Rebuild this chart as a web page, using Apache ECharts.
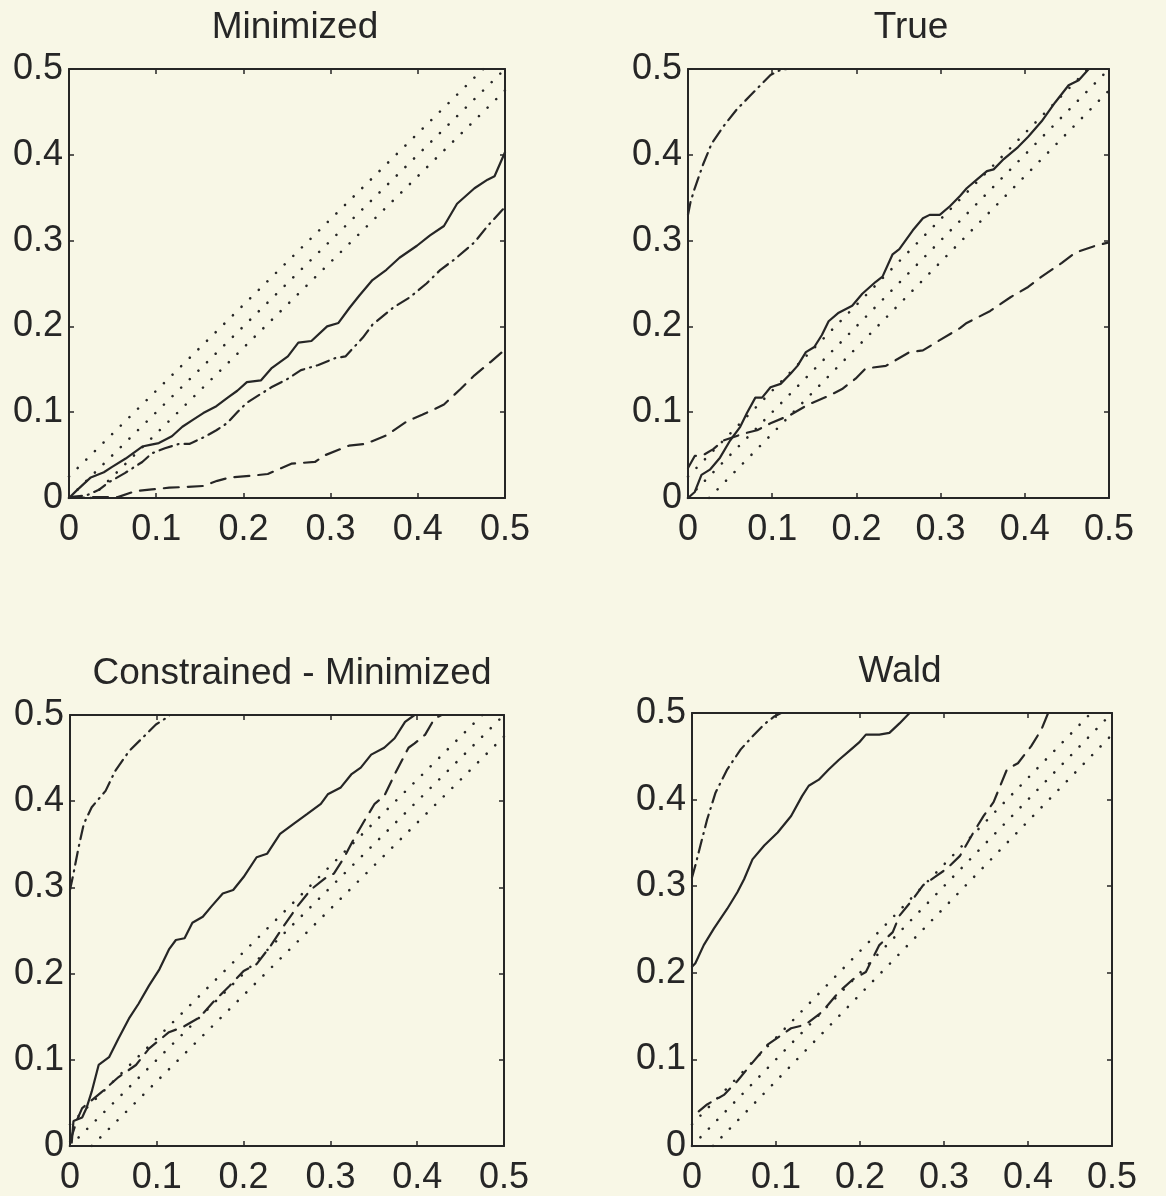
<!DOCTYPE html>
<html>
<head>
<meta charset="utf-8">
<script src="https://cdn.jsdelivr.net/npm/echarts@6/dist/echarts.min.js"></script>
<style>
  html, body { margin: 0; padding: 0; background: #f8f7e6; }
  #chart { width: 1166px; height: 1196px; }
</style>
</head>
<body>
<div id="chart"></div>
<script>
// panel titles, in reading order
const panelTitles = ["Minimized", "True", "Constrained - Minimized", "Wald"];

// reference band (dotted): y = x and y = x +/- 0.025
const bandUpper = [[0, 0.025], [0.475, 0.5]];
const bandMid = [[0, 0], [0.5, 0.5]];
const bandLower = [[0.025, 0], [0.5, 0.475]];

// Minimized
const minSolid = [[0,0],[0.008,0.008],[0.025,0.024],[0.04,0.03],[0.049,0.036],[0.065,0.046],[0.084,0.06],[0.093,0.062],[0.103,0.064],[0.118,0.072],[0.13,0.083],[0.142,0.091],[0.154,0.099],[0.169,0.107],[0.182,0.117],[0.193,0.125],[0.204,0.135],[0.22,0.137],[0.232,0.151],[0.251,0.165],[0.263,0.181],[0.278,0.183],[0.296,0.2],[0.309,0.204],[0.322,0.222],[0.333,0.236],[0.348,0.254],[0.364,0.266],[0.379,0.28],[0.399,0.294],[0.414,0.306],[0.43,0.317],[0.445,0.343],[0.465,0.361],[0.48,0.371],[0.488,0.375],[0.5,0.403]];
const minDashDot = [[0,0.001],[0.02,0.003],[0.035,0.01],[0.045,0.018],[0.052,0.022],[0.064,0.029],[0.084,0.042],[0.095,0.052],[0.11,0.058],[0.126,0.063],[0.138,0.063],[0.155,0.071],[0.169,0.079],[0.181,0.087],[0.194,0.101],[0.204,0.111],[0.232,0.129],[0.251,0.139],[0.266,0.149],[0.286,0.155],[0.305,0.163],[0.317,0.165],[0.337,0.187],[0.348,0.202],[0.372,0.222],[0.391,0.234],[0.41,0.25],[0.426,0.266],[0.442,0.278],[0.465,0.298],[0.48,0.317],[0.5,0.339]];
const minDashed = [[0,0],[0.03,0.001],[0.056,0.001],[0.076,0.008],[0.095,0.01],[0.115,0.012],[0.135,0.013],[0.154,0.014],[0.17,0.02],[0.185,0.024],[0.21,0.026],[0.228,0.028],[0.255,0.04],[0.282,0.042],[0.294,0.05],[0.321,0.061],[0.34,0.063],[0.364,0.073],[0.387,0.089],[0.405,0.097],[0.418,0.103],[0.43,0.109],[0.449,0.127],[0.465,0.143],[0.484,0.159],[0.5,0.173]];

// True
const trueSolid = [[0,0],[0.008,0.007],[0.016,0.027],[0.026,0.033],[0.038,0.047],[0.05,0.067],[0.062,0.083],[0.07,0.099],[0.08,0.117],[0.088,0.117],[0.098,0.129],[0.11,0.133],[0.122,0.145],[0.13,0.154],[0.14,0.17],[0.15,0.176],[0.159,0.19],[0.167,0.206],[0.179,0.216],[0.195,0.224],[0.207,0.238],[0.223,0.252],[0.231,0.258],[0.243,0.284],[0.251,0.29],[0.267,0.312],[0.279,0.326],[0.287,0.33],[0.299,0.33],[0.311,0.34],[0.323,0.352],[0.331,0.361],[0.343,0.371],[0.355,0.381],[0.363,0.383],[0.375,0.395],[0.392,0.409],[0.404,0.421],[0.42,0.439],[0.436,0.461],[0.452,0.481],[0.464,0.487],[0.476,0.5]];
const trueDashDot = [[0,0.33],[0.003,0.345],[0.008,0.361],[0.018,0.389],[0.028,0.413],[0.042,0.433],[0.058,0.453],[0.074,0.469],[0.086,0.481],[0.098,0.493],[0.11,0.499],[0.118,0.5]];
const trueDashed = [[0,0.035],[0.008,0.049],[0.018,0.05],[0.03,0.057],[0.042,0.067],[0.066,0.075],[0.082,0.079],[0.098,0.087],[0.122,0.097],[0.143,0.109],[0.167,0.119],[0.183,0.127],[0.199,0.139],[0.211,0.151],[0.235,0.154],[0.263,0.17],[0.279,0.172],[0.299,0.184],[0.323,0.198],[0.331,0.204],[0.359,0.218],[0.383,0.234],[0.404,0.246],[0.42,0.258],[0.444,0.274],[0.46,0.286],[0.484,0.294],[0.5,0.298]];

// Constrained - Minimized
const conSolid = [[0.002,0.004],[0.004,0.029],[0.014,0.033],[0.019,0.044],[0.025,0.063],[0.033,0.094],[0.045,0.103],[0.056,0.125],[0.068,0.148],[0.079,0.165],[0.091,0.186],[0.103,0.205],[0.114,0.228],[0.122,0.239],[0.132,0.241],[0.141,0.259],[0.153,0.266],[0.163,0.278],[0.176,0.293],[0.188,0.297],[0.2,0.312],[0.215,0.335],[0.227,0.339],[0.242,0.362],[0.258,0.374],[0.273,0.385],[0.289,0.397],[0.297,0.408],[0.312,0.416],[0.324,0.431],[0.335,0.439],[0.347,0.454],[0.362,0.462],[0.374,0.473],[0.386,0.492],[0.397,0.5]];
const conDashDot = [[0,0.297],[0.004,0.316],[0.01,0.347],[0.016,0.374],[0.025,0.393],[0.041,0.412],[0.052,0.435],[0.068,0.458],[0.083,0.473],[0.099,0.489],[0.11,0.496],[0.115,0.5]];
const conDashed = [[0,0.005],[0.008,0.03],[0.014,0.044],[0.037,0.063],[0.056,0.08],[0.076,0.094],[0.091,0.113],[0.114,0.132],[0.13,0.138],[0.149,0.149],[0.165,0.167],[0.184,0.186],[0.2,0.203],[0.215,0.211],[0.231,0.232],[0.246,0.255],[0.262,0.278],[0.277,0.297],[0.293,0.31],[0.304,0.316],[0.316,0.335],[0.328,0.358],[0.339,0.377],[0.351,0.397],[0.362,0.406],[0.374,0.431],[0.39,0.462],[0.397,0.467],[0.409,0.477],[0.42,0.496],[0.428,0.5]];

// Wald
const waldSolid = [[0,0.207],[0.004,0.211],[0.014,0.232],[0.026,0.251],[0.042,0.274],[0.054,0.293],[0.062,0.308],[0.072,0.331],[0.086,0.347],[0.102,0.362],[0.118,0.381],[0.131,0.404],[0.139,0.416],[0.151,0.423],[0.163,0.435],[0.175,0.446],[0.187,0.456],[0.199,0.466],[0.207,0.475],[0.223,0.475],[0.235,0.477],[0.247,0.488],[0.259,0.5]];
const waldDashDot = [[0,0.31],[0.004,0.324],[0.01,0.347],[0.018,0.377],[0.028,0.408],[0.042,0.435],[0.058,0.458],[0.072,0.473],[0.086,0.487],[0.098,0.496],[0.106,0.5]];
const waldDashed = [[0.008,0.04],[0.018,0.048],[0.038,0.059],[0.054,0.075],[0.07,0.094],[0.09,0.117],[0.118,0.136],[0.135,0.14],[0.155,0.155],[0.175,0.178],[0.191,0.192],[0.207,0.201],[0.223,0.232],[0.239,0.247],[0.247,0.266],[0.263,0.285],[0.275,0.301],[0.291,0.312],[0.303,0.32],[0.319,0.335],[0.335,0.362],[0.347,0.381],[0.359,0.397],[0.375,0.435],[0.388,0.442],[0.404,0.462],[0.416,0.481],[0.424,0.5]];

const panelCurves = [
  [minSolid, minDashDot, minDashed],
  [trueSolid, trueDashDot, trueDashed],
  [conSolid, conDashDot, conDashed],
  [waldSolid, waldDashDot, waldDashed]
];

const boxes = [
  { left: 69, top: 69, width: 436, height: 429, tx: 290 },
  { left: 688, top: 69, width: 421, height: 429, tx: 906 },
  { left: 70, top: 715, width: 434, height: 432, tx: 287 },
  { left: 692, top: 713, width: 420, height: 435, tx: 895 }
];

const ink = "#262626";
const fontFam = "'Liberation Sans', Arial, Helvetica, sans-serif";

let grid = [], xAxis = [], yAxis = [], series = [], title = [];

function axisBase(gi, pos, labels) {
  return {
    type: "value",
    gridIndex: gi,
    position: pos,
    min: 0,
    max: 0.5,
    interval: 0.1,
    axisLine: { show: true, onZero: false, lineStyle: { color: ink, width: 2 } },
    axisTick: { show: true, inside: true, length: 5, lineStyle: { color: ink, width: 1.5 } },
    splitLine: { show: false },
    axisLabel: {
      show: labels,
      color: ink,
      fontFamily: fontFam,
      fontSize: 36,
      margin: pos === "bottom" ? 14 : 6,
      formatter: function (v) { return v === 0 ? "0" : v.toFixed(1); }
    }
  };
}

function lineSeries(gi, data, type, width) {
  return {
    type: "line",
    xAxisIndex: gi * 2,
    yAxisIndex: gi * 2,
    data: data,
    symbol: "none",
    silent: true,
    animation: false,
    clip: true,
    lineStyle: { color: ink, width: width, type: type, cap: "round" }
  };
}

for (let i = 0; i < 4; i++) {
  const b = boxes[i];
  grid.push({ left: b.left, top: b.top, width: b.width, height: b.height, containLabel: false });
  xAxis.push(axisBase(i, "bottom", true));
  xAxis.push(axisBase(i, "top", false));
  yAxis.push(axisBase(i, "left", true));
  yAxis.push(axisBase(i, "right", false));
  title.push({
    text: panelTitles[i],
    left: b.tx,
    top: b.top - 65,
    textAlign: "center",
    textStyle: { color: ink, fontFamily: fontFam, fontSize: 37, fontWeight: "normal" }
  });
  // dotted band
  [bandUpper, bandMid, bandLower].forEach(function (d) {
    series.push(lineSeries(i, d, [0.1, 12], 2.6));
  });
  const c = panelCurves[i];
  series.push(lineSeries(i, c[0], "solid", 2.2));
  series.push(lineSeries(i, c[1], [13, 6, 1, 6], 2.2));
  series.push(lineSeries(i, c[2], [15, 9], 2.2));
}

const myChart = echarts.init(document.getElementById("chart"), null, { renderer: "canvas" });
myChart.setOption({
  backgroundColor: "#f8f7e6",
  animation: false,
  title: title,
  grid: grid,
  xAxis: xAxis,
  yAxis: yAxis,
  series: series
});
</script>
</body>
</html>
